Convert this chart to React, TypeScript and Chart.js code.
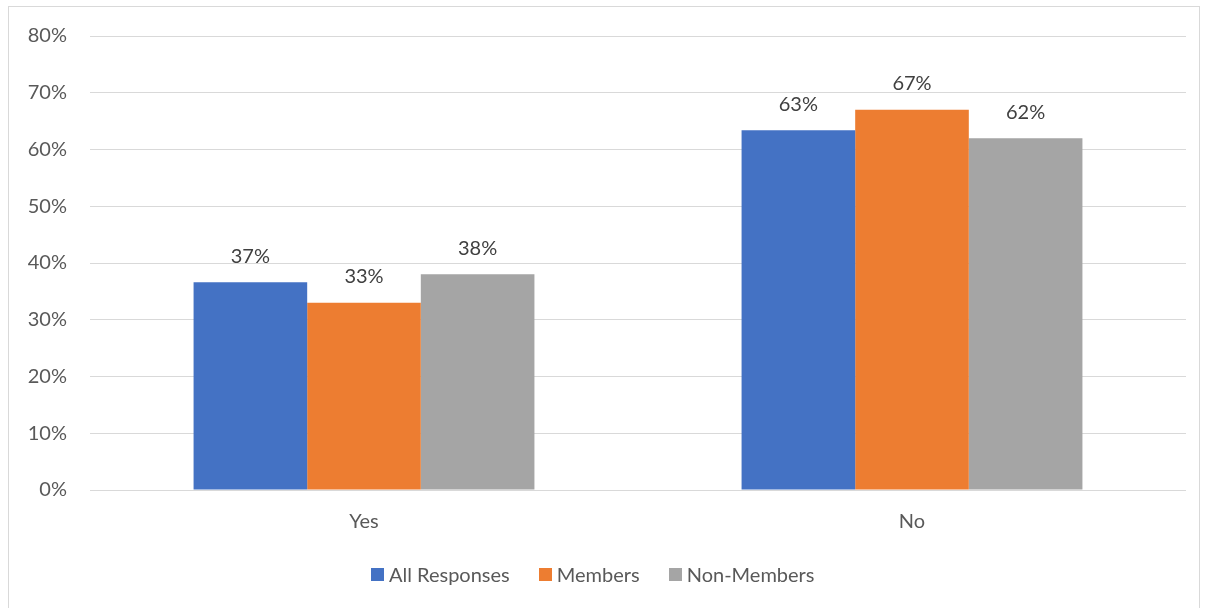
import React, { useEffect, useRef } from "react";
import { Chart, registerables } from "chart.js";

Chart.register(...registerables);

const categories = ["Yes", "No"];
const allResponses = [36.6, 63.4];
const members = [33, 67];
const nonMembers = [38, 62];
const seriesNames = ["All Responses", "Members", "Non-Members"];
const seriesColors = ["#4472C4", "#ED7D31", "#A5A5A5"];

const FONT = "Lato, 'Open Sans', sans-serif";
const FS = 20;

const dataLabelPlugin = {
  id: "dataLabels",
  afterDatasetsDraw(chart: any) {
    const ctx = chart.ctx;
    ctx.save();
    ctx.font = `${FS}px ${FONT}`;
    ctx.fillStyle = "#404040";
    ctx.textAlign = "center";
    ctx.textBaseline = "middle";
    chart.data.datasets.forEach((ds: any, i: number) => {
      const meta = chart.getDatasetMeta(i);
      meta.data.forEach((bar: any, j: number) => {
        const v = ds.data[j];
        ctx.fillText(`${Math.round(v)}%`, bar.x, bar.y - 26);
      });
    });
    ctx.restore();
  },
};

export default function App() {
  const ref = useRef<HTMLCanvasElement>(null);
  useEffect(() => {
    if (!ref.current) return;
    const chart = new Chart(ref.current, {
      type: "bar",
      data: {
        labels: categories,
        datasets: [allResponses, members, nonMembers].map((d, i) => ({
          label: seriesNames[i],
          data: d,
          backgroundColor: seriesColors[i],
          categoryPercentage: 0.622,
          barPercentage: 1,
        })),
      },
      plugins: [dataLabelPlugin],
      options: {
        animation: false,
        responsive: false,
        maintainAspectRatio: false,
        layout: { padding: { left: 0, right: 13, top: 29, bottom: 0 } },
        plugins: {
          tooltip: { enabled: false },
          legend: { display: false },
        },
        scales: {
          x: {
            grid: { display: false, drawTicks: false },
            border: { display: false },
            ticks: { color: "#595959", font: { family: FONT, size: FS }, padding: 20 },
            afterFit(scale: any) {
              scale.height = 118;
            },
          },
          y: {
            min: 0,
            max: 80,
            grid: { color: "#D9D9D9", lineWidth: 1, drawTicks: false },
            border: { display: false },
            ticks: {
              stepSize: 10,
              color: "#595959",
              font: { family: FONT, size: FS },
              padding: 23,
              callback: (v: any) => `${v}%`,
            },
            afterFit(scale: any) {
              scale.width = 81;
              scale.paddingTop = 0;
              scale.paddingBottom = 0;
            },
          },
        },
      },
    });
    return () => chart.destroy();
  }, []);
  return (
    <div
      style={{
        position: "fixed",
        left: 8,
        top: 6,
        width: 1192,
        height: 610,
        border: "1px solid #D9D9D9",
        boxSizing: "border-box",
        background: "#fff",
      }}
    >
      <canvas ref={ref} width={1190} height={601} style={{ display: "block" }} />
      <div
        style={{
          position: "absolute",
          left: 362,
          top: 554,
          height: 26,
          display: "flex",
          alignItems: "center",
          fontFamily: FONT,
          fontSize: FS,
          color: "#595959",
          whiteSpace: "nowrap",
        }}
      >
        {seriesNames.map((n, i) => (
          <div key={n} style={{ display: "flex", alignItems: "center", marginRight: 29 }}>
            <span
              style={{
                display: "inline-block",
                width: 13,
                height: 13,
                background: seriesColors[i],
                marginRight: 5,
              }}
            />
            <span>{n}</span>
          </div>
        ))}
      </div>
    </div>
  );
}
